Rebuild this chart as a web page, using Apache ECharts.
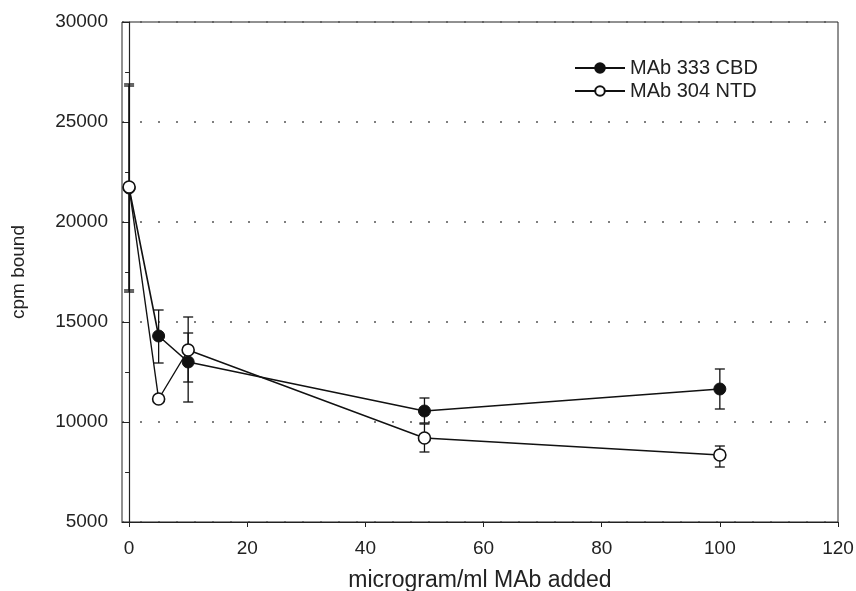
<!DOCTYPE html>
<html>
<head>
<meta charset="utf-8">
<script src="https://cdn.jsdelivr.net/npm/echarts@6/dist/echarts.min.js"></script>
<style>html,body{margin:0;padding:0;background:#fff}#c{width:856px;height:591px}</style>
</head>
<body>
<div id="c"></div>
<script>
var xValues = [0, 5, 10, 50, 100];
var cbdName = 'MAb 333 CBD';
var cbdMean = [21700, 14300, 13000, 10550, 11650];
var cbdLow  = [16600, 12950, 11000, 9950, 10650];
var cbdHigh = [26800, 15600, 14450, 11200, 12650];
var ntdName = 'MAb 304 NTD';
var ntdMean = [21750, 11150, 13600, 9200, 8350];
var ntdLow  = [16500, 11100, 12000, 8500, 7750];
var ntdHigh = [26900, 11200, 15250, 9900, 8800];
var xTicks = [0, 20, 40, 60, 80, 100, 120];
var yTicks = [5000, 10000, 15000, 20000, 25000, 30000];

function pts(m){ return xValues.map(function(x,i){ return [x, m[i]]; }); }
function errs(lo, hi){ return xValues.map(function(x,i){ return [x, lo[i], hi[i]]; }); }

function errItem(params, api){
  var x = api.value(0), lo = api.value(1), hi = api.value(2);
  var pl = api.coord([x, lo]), ph = api.coord([x, hi]);
  var w = 5;
  var st = {stroke:'#111', lineWidth:1.3};
  return {type:'group', children:[
    {type:'line', shape:{x1:pl[0],y1:pl[1],x2:ph[0],y2:ph[1]}, style:st},
    {type:'line', shape:{x1:pl[0]-w,y1:pl[1],x2:pl[0]+w,y2:pl[1]}, style:st},
    {type:'line', shape:{x1:ph[0]-w,y1:ph[1],x2:ph[0]+w,y2:ph[1]}, style:st}
  ]};
}

var font = 'Liberation Sans, Arial, sans-serif';
var chart = echarts.init(document.getElementById('c'), null, {renderer:'canvas'});
chart.setOption({
  animation:false,
  backgroundColor:'#fff',
  grid:{left:122, right:18, top:22, bottom:69, show:true, borderColor:'#222', borderWidth:1,
        backgroundColor:'transparent', outerBoundsMode:'none', containLabel:false},
  legend:{
    orient:'vertical', left:569, top:53, itemWidth:50, itemHeight:12, itemGap:3,
    textStyle:{fontFamily:font, fontSize:20, color:'#222'},
    data:[cbdName, ntdName]
  },
  xAxis:{
    type:'value', min:-1.2, max:120,
    name:'microgram/ml MAb added', nameLocation:'middle', nameGap:47,
    nameTextStyle:{fontFamily:font, fontSize:23, color:'#222'},
    axisLine:{lineStyle:{color:'#222', width:1.2}},
    axisTick:{show:true, inside:false, length:5, customValues:xTicks, lineStyle:{color:'#222'}},
    axisLabel:{customValues:xTicks, fontFamily:font, fontSize:19, color:'#222', margin:17},
    splitLine:{show:false}
  },
  yAxis:{
    type:'value', min:5000, max:30000, interval:5000,
    name:'cpm bound', nameLocation:'middle', nameGap:94,
    nameTextStyle:{fontFamily:font, fontSize:19, color:'#222'},
    axisLine:{show:true, lineStyle:{color:'#222', width:1.2}},
    axisTick:{show:true, length:7, lineStyle:{color:'#222'}},
    minorTick:{show:true, splitNumber:2, length:4, lineStyle:{color:'#222'}},
    axisLabel:{fontFamily:font, fontSize:19, color:'#222', margin:14, formatter:function(v){ return String(v); }},
    splitLine:{show:true, lineStyle:{color:'#555', type:[2,16], width:1.5}}
  },
  series:[
    {type:'custom', name:'cbdErr', renderItem:errItem, data:errs(cbdLow,cbdHigh), z:2, silent:true},
    {type:'custom', name:'ntdErr', renderItem:errItem, data:errs(ntdLow,ntdHigh), z:2, silent:true},
    {type:'line', name:cbdName, data:pts(cbdMean), symbol:'circle', symbolSize:12,
      lineStyle:{color:'#111', width:1.6}, itemStyle:{color:'#111', borderColor:'#111', borderWidth:1}, z:4},
    {type:'line', name:ntdName, data:pts(ntdMean), symbol:'circle', symbolSize:12,
      lineStyle:{color:'#111', width:1.4}, itemStyle:{color:'#fff', borderColor:'#111', borderWidth:1.6}, z:5}
  ]
});
</script>
</body>
</html>
